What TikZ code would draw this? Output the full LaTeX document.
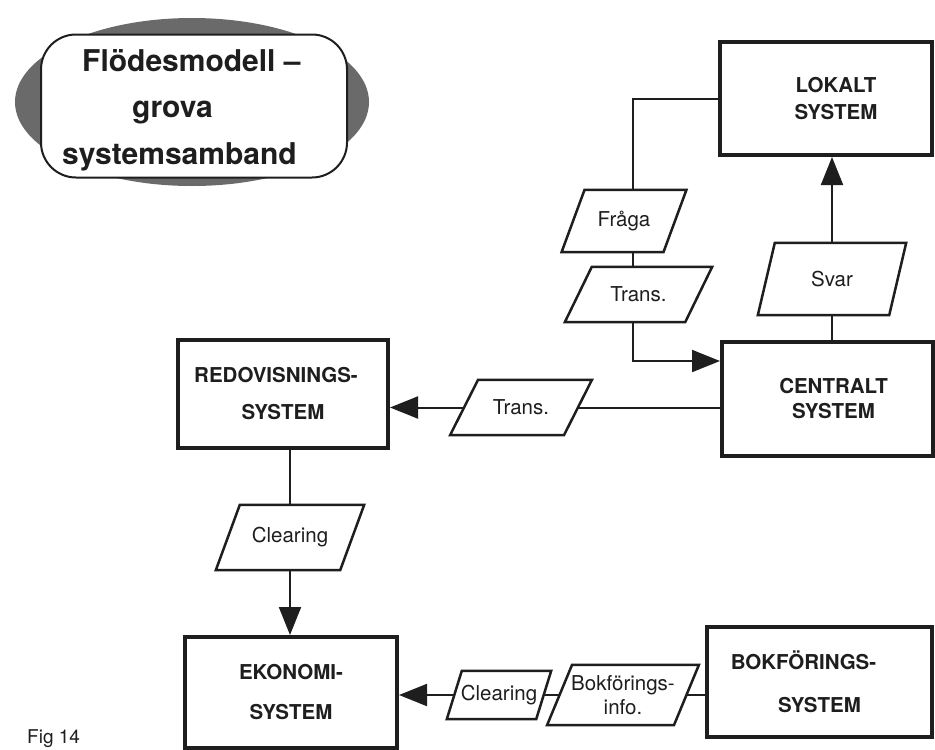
\documentclass[tikz,border=0pt]{standalone}
\usepackage{fontspec}
\setmainfont{TeX Gyre Heros}
\usetikzlibrary{arrows.meta,calc}

\definecolor{ink}{HTML}{1E1E1E}
\definecolor{halogray}{HTML}{6A6A6A}

% parallelogram data symbol: name, x, y, mid width, height, slant, text
\newcommand\dataslant[7]{%
  \node[flowlbl, minimum width=#4pt, minimum height=#5pt] (#1) at (#2,#3) {#7};
  \draw[paraedge] ([xshift=#6/2]#1.north west) -- ([xshift=#6/2]#1.north east)
    -- ([xshift=-#6/2]#1.south east) -- ([xshift=-#6/2]#1.south west) -- cycle;
}

\begin{document}
\begin{tikzpicture}[x=1pt,y=-1pt,
  sysbox/.style={draw=ink, line width=4pt, fill=white, align=center, text=ink,
    font=\fontsize{20.5}{24}\selectfont\bfseries, inner sep=0pt},
  flowlbl/.style={draw=none, align=center, text=ink,
    font=\fontsize{20.5}{24}\selectfont, inner sep=0pt},
  paraedge/.style={draw=ink, line width=2.5pt, line join=miter},
  link/.style={draw=ink, line width=2pt},
  arr/.style={link, -{Triangle[length=28pt,width=22pt]}},
]
\useasboundingbox (0,0) rectangle (935,750);
\fill[white] (0,0) rectangle (935,750);

% title badge: grey oval behind a rounded white plate
\fill[halogray] (192,102) ellipse [x radius=177, y radius=84];
\node[draw=ink, line width=2pt, fill=white, rounded corners=35pt,
      minimum width=306pt, minimum height=143pt] (title) at (194,106) {};
\node[anchor=west, align=left, text=ink, inner sep=0pt,
      font=\fontsize{30}{46.5}\selectfont\bfseries] (titletext) at (62,110)
  {\hspace*{20pt}Flödesmodell –\\\hspace*{70pt}grova\\systemsamband};

% systems
\node[sysbox, minimum width=212pt, minimum height=113pt] (lokalt) at (826,98.5)
  {\hspace*{20pt}LOKALT\\[3pt]\hspace*{20pt}SYSTEM};
\node[sysbox, minimum width=211pt, minimum height=114pt] (centralt) at (827.5,399)
  {\hspace*{12pt}CENTRALT\\[1pt]\hspace*{12pt}SYSTEM};
\node[sysbox, minimum width=210pt, minimum height=108pt] (redov) at (283,394)
  {REDOVISNINGS-\hspace*{14pt}\\[13pt]SYSTEM};
\node[sysbox, minimum width=212pt, minimum height=111pt] (ekonomi) at (291,692.5)
  {EKONOMI-\\[16pt]SYSTEM};
\node[sysbox, minimum width=225pt, minimum height=110pt] (bokf) at (819.5,682)
  {BOKFÖRINGS-\hspace*{32pt}\\[19pt]SYSTEM};

% data flows
\dataslant{fraga}{624}{221}{101.5}{62}{23}{Fråga}
\dataslant{transa}{638.5}{294.5}{120}{55}{27}{Trans.}
\dataslant{svar}{832}{279}{131}{72}{17}{Svar}
\dataslant{transb}{521}{407.5}{113.5}{55}{28}{Trans.}
\dataslant{cleara}{290}{537.5}{124}{65}{24}{Clearing}
\dataslant{clearb}{499}{695}{89}{48}{15}{Clearing}
\dataslant{bokinfo}{623}{695}{126.5}{60}{25}{Bokförings-\\info.}

% query / transaction loop
\coordinate (qx) at (633,0);
\draw[link] (lokalt.west) -| (qx |- fraga.north);
\draw[link] (qx |- fraga.south) -- (qx |- transa.north);
\draw[arr] (qx |- transa.south) |- ([yshift=-21pt]centralt.north west);

% reply
\draw[link] (svar.south |- centralt.north) -- (svar.south);
\draw[arr] (svar.north) -- (svar.north |- lokalt.south);

% central -> accounting
\draw[link] (transb.east -| centralt.west) -- (transb.east);
\draw[arr] (transb.west) -- (transb.west -| redov.east);

% accounting -> economy
\draw[link] (cleara.north |- redov.south) -- (cleara.north);
\draw[arr] (cleara.south) -- (cleara.south |- ekonomi.north);

% bookkeeping -> economy
\draw[link] (bokinfo.east -| bokf.west) -- (bokinfo.east);
\draw[link] (bokinfo.west) -- (clearb.east);
\draw[arr] (clearb.west) -- (clearb.west -| ekonomi.east);

\node[anchor=base west, text=ink, font=\fontsize{19}{22}\selectfont, inner sep=0pt]
  (figno) at (27,743) {Fig 14};
\end{tikzpicture}
\end{document}
